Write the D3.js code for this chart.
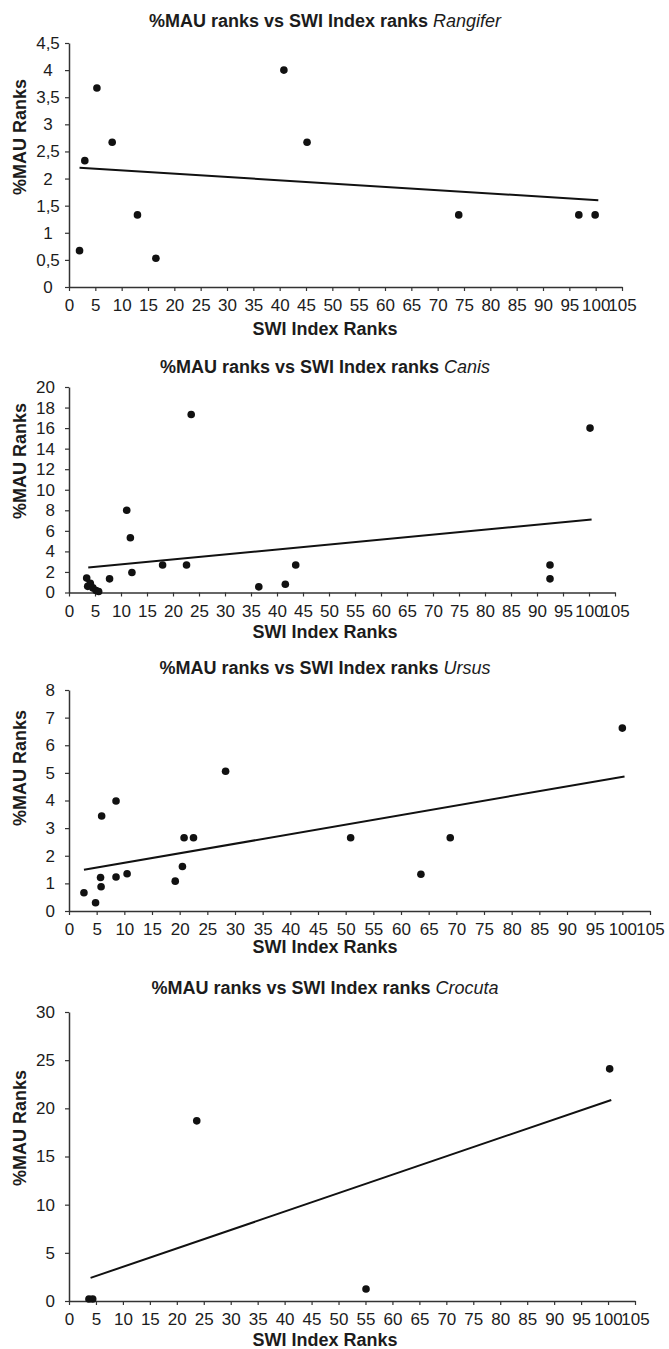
<!DOCTYPE html>
<html>
<head>
<meta charset="utf-8">
<script src="https://cdn.jsdelivr.net/npm/d3@7"></script>
<style>
  body { margin: 0; background: #fff; }
  text { font-family: "Liberation Sans", Arial, sans-serif; fill: #1c1c1c; }
</style>
</head>
<body>
<svg id="chart"></svg>
<script>
// values
var xTickValues = [0, 5, 10, 15, 20, 25, 30, 35, 40, 45, 50, 55, 60, 65, 70, 75, 80, 85, 90, 95, 100, 105];

var rangiferX = [2, 3, 5.3, 8.2, 13, 16.5, 40.8, 45.2, 74, 96.8, 99.9];
var rangiferY = [0.67, 2.33, 3.67, 2.67, 1.33, 0.53, 4, 2.67, 1.33, 1.33, 1.33];
var rangiferTrendX = [2, 100.5];
var rangiferTrendY = [2.2, 1.6];
var rangiferTicks = [0, 0.5, 1, 1.5, 2, 2.5, 3, 3.5, 4, 4.5];

var canisX = [3.4, 3.6, 4.1, 4.6, 5.2, 5.7, 7.8, 11.1, 11.8, 12.1, 18, 22.6, 23.5, 36.5, 41.6, 43.6, 92.5, 92.5, 100.2];
var canisY = [1.4, 0.6, 0.9, 0.45, 0.2, 0.1, 1.33, 8, 5.33, 1.94, 2.67, 2.67, 17.33, 0.55, 0.8, 2.67, 2.67, 1.33, 16];
var canisTrendX = [3.7, 100.5];
var canisTrendY = [2.43, 7.1];
var canisTicks = [0, 2, 4, 6, 8, 10, 12, 14, 16, 18, 20];

var ursusX = [2.7, 4.8, 5.7, 5.8, 5.9, 8.5, 8.5, 10.5, 19.2, 20.5, 20.8, 22.5, 28.3, 50.9, 63.6, 68.9, 100];
var ursusY = [0.66, 0.3, 1.21, 0.88, 3.44, 3.98, 1.23, 1.35, 1.08, 1.61, 2.65, 2.65, 5.06, 2.65, 1.33, 2.65, 6.62];
var ursusTrendX = [2.7, 100.4];
var ursusTrendY = [1.49, 4.87];
var ursusTicks = [0, 1, 2, 3, 4, 5, 6, 7, 8];

var crocutaX = [3.7, 4.4, 23.7, 55.1, 100.3];
var crocutaY = [0.2, 0.2, 18.7, 1.25, 24.1];
var crocutaTrendX = [4, 100.6];
var crocutaTrendY = [2.4, 20.87];
var crocutaTicks = [0, 5, 10, 15, 20, 25, 30];

var W = 669, H = 1349;

var panels = [
  { genus: "Rangifer", xs: rangiferX, ys: rangiferY, tx: rangiferTrendX, ty: rangiferTrendY, ticks: rangiferTicks,
    left: 69, right: 622, top: 43, bottom: 287, titleY: 21, xLabelY: 329, yLabelY: 137, comma: true },
  { genus: "Canis", xs: canisX, ys: canisY, tx: canisTrendX, ty: canisTrendY, ticks: canisTicks,
    left: 69, right: 615, top: 387, bottom: 592.5, titleY: 367, xLabelY: 632, yLabelY: 461 },
  { genus: "Ursus", xs: ursusX, ys: ursusY, tx: ursusTrendX, ty: ursusTrendY, ticks: ursusTicks,
    left: 69, right: 650, top: 690, bottom: 911, titleY: 668, xLabelY: 947, yLabelY: 768 },
  { genus: "Crocuta", xs: crocutaX, ys: crocutaY, tx: crocutaTrendX, ty: crocutaTrendY, ticks: crocutaTicks,
    left: 69, right: 635, top: 1012, bottom: 1301, titleY: 988, xLabelY: 1340, yLabelY: 1128 }
];

var svg = d3.select("#chart")
    .attr("width", W)
    .attr("height", H)
    .attr("viewBox", "0 0 " + W + " " + H);

svg.append("rect").attr("width", W).attr("height", H).attr("fill", "#fff");

panels.forEach(function(p) {
  var g = svg.append("g");
  var yMax = p.ticks[p.ticks.length - 1];

  var x = d3.scaleLinear().domain([0, 105]).range([p.left, p.right]);
  var y = d3.scaleLinear().domain([0, yMax]).range([p.bottom, p.top]);

  // title
  var title = g.append("text")
      .attr("x", 325)
      .attr("y", p.titleY)
      .attr("dy", "0.36em")
      .attr("text-anchor", "middle")
      .style("font-size", "18px")
      .style("font-weight", "bold");
  title.append("tspan").text("%MAU ranks vs SWI Index ranks ");
  title.append("tspan").style("font-style", "italic").style("font-weight", "normal").text(p.genus);

  // x axis
  var xAxis = g.append("g")
      .attr("transform", "translate(0," + p.bottom + ")")
      .call(d3.axisBottom(x).tickValues(xTickValues).tickSize(4).tickSizeOuter(0).tickPadding(8));

  // y axis
  var yAxis = g.append("g")
      .attr("transform", "translate(" + p.left + ",0)")
      .call(d3.axisLeft(y).tickValues(p.ticks).tickSize(4).tickSizeOuter(0).tickPadding(10)
        .tickFormat(function(d) {
          var s = String(d);
          return p.comma ? s.replace(".", ",") : s;
        }));

  if (p.comma) {
    yAxis.selectAll(".tick text").attr("text-anchor", "middle").attr("x", -21);
  }

  [xAxis, yAxis].forEach(function(a) {
    a.select(".domain").attr("stroke", "#333").attr("stroke-width", 1.5);
    a.selectAll(".tick line").attr("stroke", "#333").attr("stroke-width", 1.2);
    a.selectAll(".tick text")
      .style("font-size", "17px")
      .style("font-family", "'Liberation Sans', Arial, sans-serif")
      .attr("fill", "#1c1c1c");
  });

  // axis titles
  g.append("text")
      .attr("x", 325)
      .attr("y", p.xLabelY)
      .attr("dy", "0.36em")
      .attr("text-anchor", "middle")
      .style("font-size", "18px")
      .style("font-weight", "bold")
      .text("SWI Index Ranks");

  g.append("text")
      .attr("transform", "translate(20," + p.yLabelY + ") rotate(-90)")
      .attr("dy", "0.36em")
      .attr("text-anchor", "middle")
      .style("font-size", "18px")
      .style("font-weight", "bold")
      .text("%MAU Ranks");

  // trend line
  var line = d3.line()
      .x(function(d) { return x(d[0]); })
      .y(function(d) { return y(d[1]); });

  g.append("path")
      .datum(d3.zip(p.tx, p.ty))
      .attr("d", line)
      .attr("fill", "none")
      .attr("stroke", "#111")
      .attr("stroke-width", 2);

  // points
  g.selectAll(".dot")
    .data(d3.zip(p.xs, p.ys))
    .enter().append("circle")
      .attr("class", "dot")
      .attr("cx", function(d) { return x(d[0]); })
      .attr("cy", function(d) { return y(d[1]); })
      .attr("r", 3.8)
      .attr("fill", "#111");
});
</script>
</body>
</html>
